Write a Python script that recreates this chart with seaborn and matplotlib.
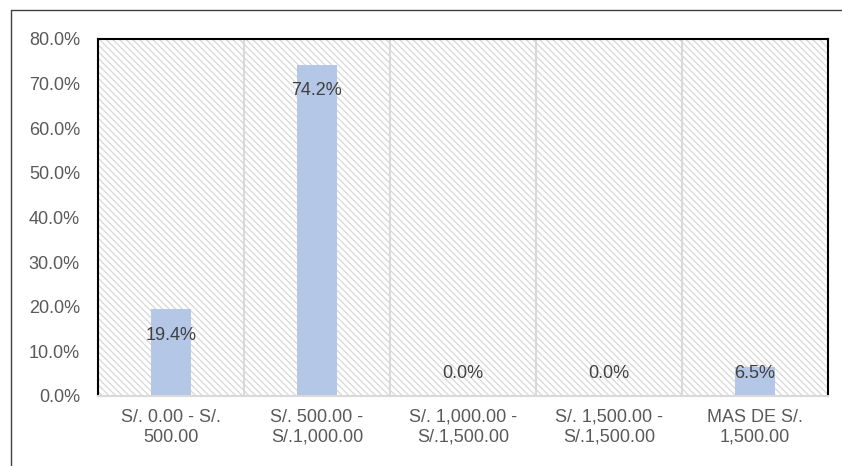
import matplotlib
matplotlib.use("Agg")
import matplotlib.pyplot as plt
import seaborn as sns
import pandas as pd
from matplotlib.patches import Rectangle
from matplotlib.lines import Line2D

categories = ["S/. 0.00 - S/.\n500.00", "S/. 500.00 -\nS/.1,000.00",
              "S/. 1,000.00 -\nS/.1,500.00", "S/. 1,500.00 -\nS/.1,500.00",
              "MAS DE S/.\n1,500.00"]
values = [19.4, 74.2, 0.0, 0.0, 6.5]
yticks = [0, 10, 20, 30, 40, 50, 60, 70, 80]

sns.set_style("white")
plt.rcParams['font.family'] = ['Liberation Sans', 'DejaVu Sans']
plt.rcParams['hatch.linewidth'] = 1.0

df = pd.DataFrame({"cat": categories, "val": values})

fig = plt.figure(figsize=(8.42, 4.66), dpi=100)
ax = fig.add_axes([98/842, 1-396/466, (828-98)/842, (396-39)/466])

bg = Rectangle((0, 0), 1, 1, transform=ax.transAxes, facecolor='white',
               edgecolor='#DADADA', hatch='\\\\\\\\\\', lw=0, zorder=0)
ax.add_patch(bg)

sns.barplot(data=df, x="cat", y="val", color="#B4C7E7", saturation=1,
            width=0.28, linewidth=0, ax=ax, zorder=2)

for b in [0.5, 1.5, 2.5, 3.5]:
    ax.axvline(b, color='#D9D9D9', lw=1.5, zorder=1)

FS = 13
ax.set_xlim(-0.5, 4.5)
ax.set_ylim(0, 80)
ax.set_yticks(yticks)
ax.set_yticklabels([f"{t:.1f}%" for t in yticks])
ax.set_xlabel("")
ax.set_ylabel("")
ax.tick_params(axis='y', length=0, pad=13, labelsize=FS, labelcolor='#595959')
ax.tick_params(axis='x', length=0, pad=9, labelsize=FS, labelcolor='#595959')
for lab in ax.get_xticklabels():
    lab.set_linespacing(1.25)

for s in ['left', 'top', 'right']:
    ax.spines[s].set_visible(True)
    ax.spines[s].set_color('black')
    ax.spines[s].set_linewidth(1.5)
ax.spines['bottom'].set_visible(True)
ax.spines['bottom'].set_color('#D9D9D9')
ax.spines['bottom'].set_linewidth(1.5)

for i, v in enumerate(values):
    ax.text(i, max(v - 5.8, 5.0), f"{v:.1f}%", ha='center', va='center',
            fontsize=FS, color='#404040', zorder=3)

fig.add_artist(Line2D([11/842, 11/842], [0, 1-10/466], transform=fig.transFigure,
                      color='#404040', lw=1))
fig.add_artist(Line2D([11/842, 1], [1-10/466, 1-10/466], transform=fig.transFigure,
                      color='#404040', lw=1))

fig.savefig("out.png", dpi=100)
